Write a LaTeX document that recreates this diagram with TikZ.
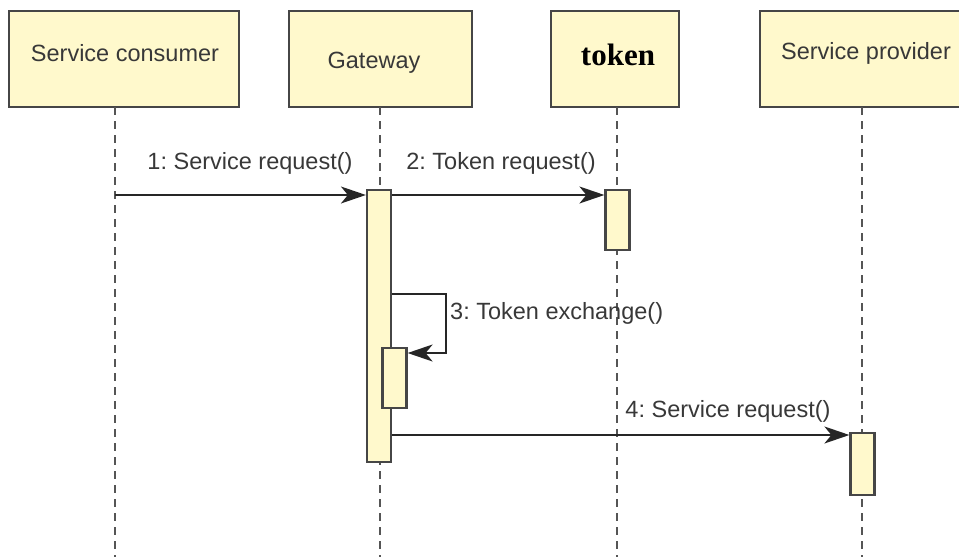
\documentclass[tikz,border=0pt]{standalone}
\usepackage{fontspec}
\setmainfont{Liberation Sans}
\newfontfamily\tokfont{Liberation Serif}
\usetikzlibrary{arrows.meta}
\definecolor{boxfill}{RGB}{255,249,204}
\definecolor{boxline}{RGB}{70,70,70}
\definecolor{lifeln}{RGB}{85,85,85}
\frenchspacing
\begin{document}
\begin{tikzpicture}[x=1pt,y=-1pt,
  actorbox/.style={draw=boxline,fill=boxfill,line width=2.2pt,minimum height=96pt,inner sep=0pt},
  actbar/.style={draw=boxline,fill=boxfill,line width=2.2pt,minimum width=24pt,inner sep=0pt},
  lifeline/.style={draw=lifeln,line width=2.2pt,dash pattern=on 8pt off 6pt},
  msg/.style={draw=black!85,line width=1.8pt,-{Stealth[length=25pt,width=17pt,inset=7pt]}},
  lbl/.style={font=\fontsize{23.5}{28}\selectfont,text=black!78,inner sep=0pt},
]
\useasboundingbox (0,0) rectangle (959,557);
% actor boxes
\node[actorbox,minimum width=230pt] (bsc) at (124,59) {};
\node[actorbox,minimum width=183pt] (bgw) at (380.5,59) {};
\node[actorbox,minimum width=128pt] (btk) at (615,59) {};
\node[actorbox,minimum width=204pt] (bsp) at (862,59) {};
\node[lbl] (tsc) at (125,53) {Service consumer};
\node[lbl] (tgw) at (374,63) {Gateway};
\node[inner sep=0pt,font=\fontsize{31}{36}\selectfont\tokfont\bfseries,text=black] (ttk) at (618,55) {token};
\node[lbl] (tsp) at (866,53) {Service provider};
% lifelines
\coordinate (lsc0) at (115,107); \coordinate (lsc1) at (115,557);
\coordinate (lgw0) at (380,107); \coordinate (lgw1) at (380,557);
\coordinate (ltk0) at (617,107); \coordinate (ltk1) at (617,557);
\coordinate (lsp0) at (862,107); \coordinate (lsp1) at (862,557);
\draw[lifeline] (lsc0) -- (lsc1);
\draw[lifeline] (lgw0) -- (lgw1);
\draw[lifeline] (ltk0) -- (ltk1);
\draw[lifeline] (lsp0) -- (lsp1);
% activation bars
\node[actbar,minimum height=272pt] (agw) at (379,326) {};
\node[actbar,minimum height=60pt] (atk) at (617.5,220) {};
\node[actbar,minimum height=60pt] (agn) at (394.5,378) {};
\node[actbar,minimum height=62pt] (asp) at (862.5,464) {};
% messages
\coordinate (m1s) at (115,195);
\draw[msg] (m1s) -- (m1s -| agw.west);
\coordinate (m2y) at (0,195);
\draw[msg] (agw.east |- m2y) -- (atk.west |- m2y);
\coordinate (m3y) at (0,294);
\coordinate (m3x) at (446,353);
\draw[msg] (agw.east |- m3y) -| (m3x) -- (agn.east |- m3x);
\coordinate (m4y) at (0,435);
\draw[msg] (agw.east |- m4y) -- (asp.west |- m4y);
% labels
\node[lbl] (l1) at (250,163) {1: Service request()};
\node[lbl] (l2) at (501,163) {2: Token request()};
\node[lbl,anchor=west] (l3) at (450,313) {3: Token exchange()};
\node[lbl] (l4) at (728,411) {4: Service request()};
\end{tikzpicture}
\end{document}
